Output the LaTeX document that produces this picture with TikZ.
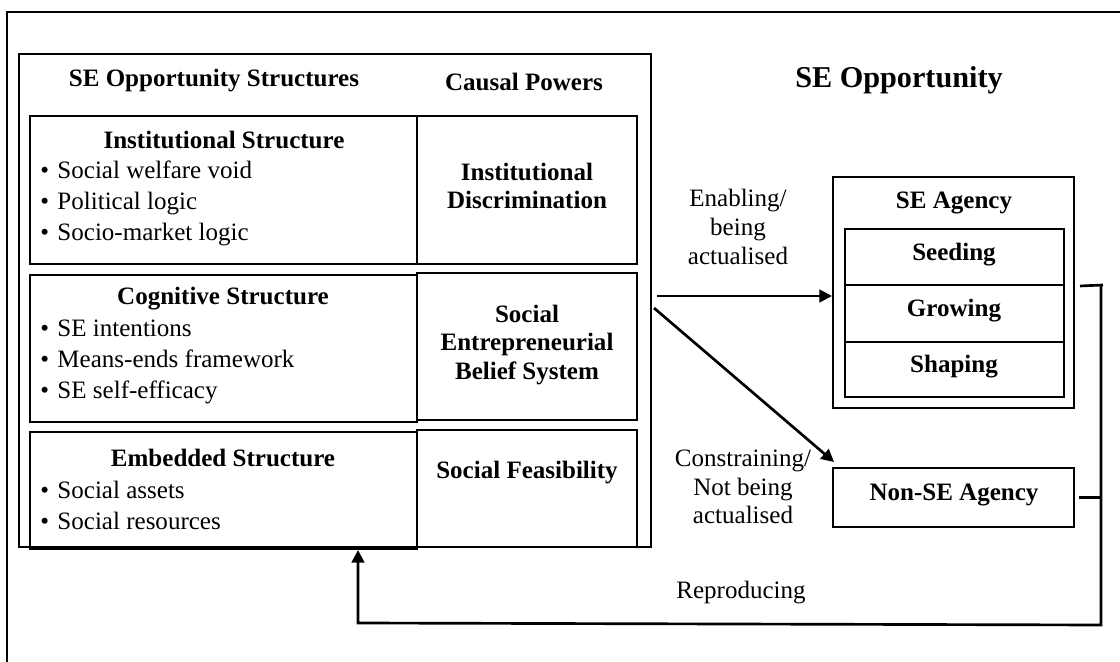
\documentclass[tikz,border=0pt]{standalone}
\usepackage{fontspec}
\setmainfont{Liberation Serif}
\usetikzlibrary{arrows.meta, calc, fit, positioning}
\newcommand{\fsz}{\fontsize{17.8}{20.5}\selectfont}
\newcommand{\itm}{\textbullet\hspace{6pt}}
\tikzstyle{every node}=[font=\fsz]
\tikzstyle{box}=[draw, line width=1.4pt, inner sep=0pt]
\tikzstyle{ttl}=[font=\fsz\bfseries, align=center, inner sep=0pt]
\tikzstyle{lst}=[font=\fontsize{17.8}{22}\selectfont, align=left, anchor=west, inner sep=0pt]
\tikzstyle{lbl}=[align=center, inner sep=0pt]
\tikzstyle{arr}=[line width=1.9pt, -{Triangle[length=9pt,width=9pt]}]

\begin{document}
\begin{tikzpicture}[x=0.025cm, y=-0.025cm]
	\useasboundingbox (0,0) rectangle (1120,662);
	% cadre
	\draw[line width=1.5pt] (1130,12) -- (7,12) -- (7,670);
	
	% structures
	\node[box, fit={(19,54) (651,547)}] (opps) {};
	\node[ttl] (hstr) at (214,81) {SE Opportunity Structures};
	\node[ttl] (hcp) at (524,82) {Causal Powers};
	
	\node[box, fit={(30,116) (417,264)}] (inst) {};
	\node[box, fit={(417,116) (637,264)}] (instcp) {};
	\node[ttl] at (224,140) {Institutional Structure};
	\node[lst] at (40,203) {\itm Social welfare void\\\itm Political logic\\\itm Socio-market logic};
	\node[ttl] at (527,186) {Institutional\\Discrimination};
	
	\node[box, fit={(30,275) (417,422)}] (cogn) {};
	\node[box, fit={(417,273) (637,420)}] (cogncp) {};
	\node[ttl] at (223,299) {Cognitive Structure};
	\node[lst] at (40,362) {\itm SE intentions\\\itm Means-ends framework\\\itm SE self-efficacy};
	\node[ttl] at (527,345) {Social\\Entrepreneurial\\Belief System};
	
	\node[box, fit={(30,432) (417,549)}] (embd) {};
	\node[box, fit={(417,430) (637,547)}] (embdcp) {};
	\node[ttl] at (223,458) {Embedded Structure};
	\node[lst] at (40,505) {\itm Social assets\\\itm Social resources};
	\node[ttl] at (527,473) {Social Feasibility};
	
	% opportunite
	\node[ttl, font=\fontsize{21.5}{24}\selectfont\bfseries] (hopp) at (899,80) {SE Opportunity};
	
	\node[box, fit={(833,177) (1074,408)}] (seag) {};
	\node[ttl] at (954,203) {SE Agency};
	\node[box, fit={(845,229) (1064,285)}] (seed) {};
	\node[box, fit={(845,285) (1064,342)}] (grow) {};
	\node[box, fit={(845,342) (1064,397)}] (shap) {};
	\node[ttl] at (954,255) {Seeding};
	\node[ttl] at (954,311) {Growing};
	\node[ttl] at (954,367) {Shaping};
	
	\node[box, fit={(833,468) (1074,527)}] (nonse) {};
	\node[ttl] at (954,495) {Non-SE Agency};
	
	% fleches
	\draw[arr] ($(opps.east |- 0,296)+(5,0)$) -- (seag.west |- 0,296);
	\draw[arr] ($(opps.east |- 0,308)+(2,0)$) -- ($(nonse.north west)+(2,-5)$);
	\node[lbl] (enab) at (738,227) {Enabling/\\being\\actualised};
	\node[lbl] (cons) at (743,487) {Constraining/\\Not being\\actualised};
	
	% retour
	\coordinate (fbtop) at (1101,285);
	\coordinate (fbbot) at (1101,625);
	\coordinate (fbend) at (358,623);
	\draw[line width=1.9pt] ($(seag.east |- seed.south)+(5,0)$) -- ($(fbtop)+(2,0)$);
	\draw[line width=1.9pt] ($(nonse.east)+(4,0)$) -- (nonse.east -| fbtop);
	\draw[arr] (fbtop) -- (fbbot) -- (fbend) -- (fbend |- embd.south);
	\node[lbl] (repr) at (741,593) {Reproducing};
\end{tikzpicture}
\end{document}
